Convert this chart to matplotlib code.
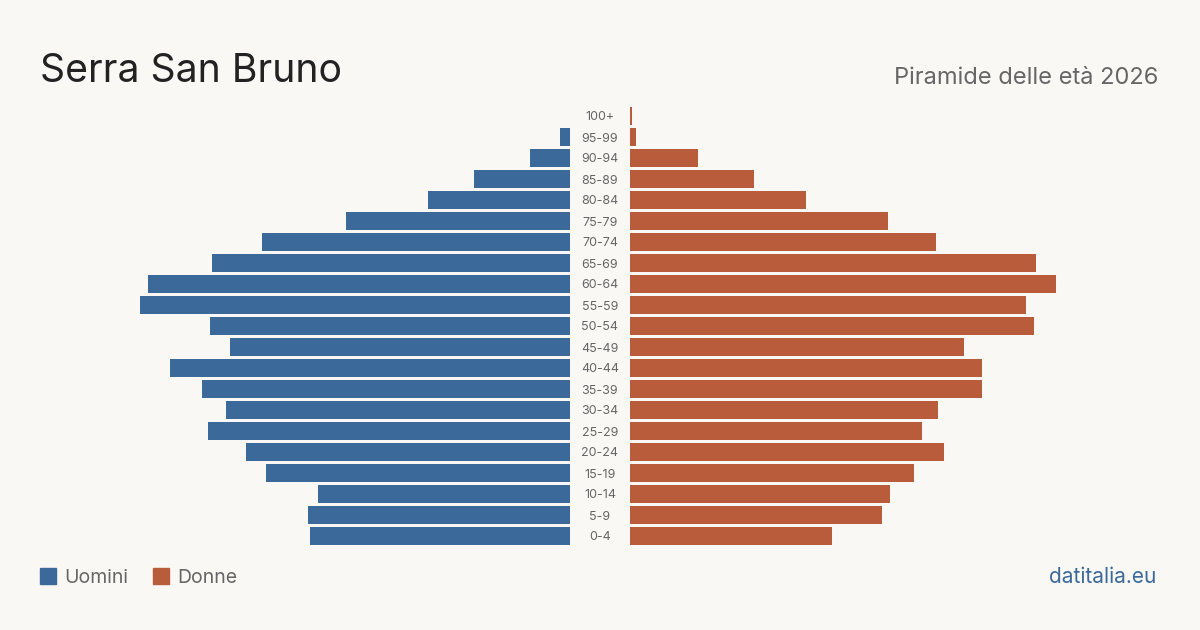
import matplotlib
matplotlib.use("Agg")
import matplotlib.pyplot as plt
from matplotlib.patches import Rectangle
from matplotlib.transforms import blended_transform_factory, offset_copy

plt.rcParams['font.family'] = ['Inter', 'DejaVu Sans']

# age classes, bottom to top
age_groups = ['0-4', '5-9', '10-14', '15-19', '20-24', '25-29', '30-34', '35-39',
              '40-44', '45-49', '50-54', '55-59', '60-64', '65-69', '70-74',
              '75-79', '80-84', '85-89', '90-94', '95-99', '100+']
uomini = [130, 131, 126, 152, 162, 181, 172, 184, 200, 170, 180,
          215, 211, 179, 154, 112, 71, 48, 20, 5, 0]
donne = [101, 126, 130, 142, 157, 146, 154, 176, 176, 167, 202,
         198, 213, 203, 153, 129, 88, 62, 34, 3, 1]

bg = '#f9f8f4'
blue = '#3b6a9a'
orange = '#b95c3c'
grey = '#666666'

W, H = 1200, 630
fig = plt.figure(figsize=(12, 6.3), dpi=100, facecolor=bg)

bottom = (H - 546.5) / H
height = 441 / H
ax_l = fig.add_axes([0, bottom, 570 / W, height])
ax_r = fig.add_axes([630 / W, bottom, 570 / W, height])

ypos = list(range(len(age_groups)))
ax_l.barh(ypos, uomini, height=0.81, color=blue)
ax_r.barh(ypos, donne, height=0.81, color=orange)

xmax = 285
ax_l.set_xlim(xmax, 0)
ax_r.set_xlim(0, xmax)
for ax in (ax_l, ax_r):
    ax.set_ylim(-0.5, len(age_groups) - 0.5)
    ax.axis('off')
    ax.set_facecolor('none')

# age labels in the middle gap
trans = blended_transform_factory(fig.transFigure, ax_r.transData)
trans = offset_copy(trans, fig=fig, y=-1.5, units='dots')
for y, lab in zip(ypos, age_groups):
    fig.text(600 / W, y, lab, transform=trans, ha='center', va='center',
             fontsize=9, color=grey)

# titles
fig.text(40 / W, (H - 82) / H, 'Serra San Bruno', fontsize=28.2,
         color='#222222', ha='left', va='baseline')
fig.text(1158 / W, (H - 84) / H, 'Piramide delle età 2026', fontsize=17,
         color=grey, ha='right', va='baseline')

# legend
for x0, col, lab in [(40, blue, 'Uomini'), (153, orange, 'Donne')]:
    fig.patches.append(Rectangle((x0 / W, (H - 584) / H), 16 / W, 16 / H,
                                 transform=fig.transFigure, color=col))
    fig.text((x0 + 24) / W, (H - 583) / H, lab, fontsize=14, color=grey,
             ha='left', va='baseline')

fig.text(1156 / W, (H - 583) / H, 'datitalia.eu', fontsize=15, color=blue,
         ha='right', va='baseline')

fig.savefig('out.png', dpi=100, facecolor=bg)
